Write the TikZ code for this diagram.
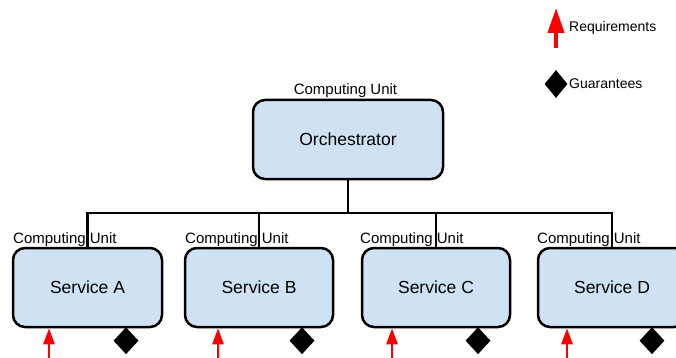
\documentclass[tikz,border=0pt]{standalone}
\usepackage{fontspec}
\setmainfont{Liberation Sans}
\usetikzlibrary{arrows.meta,shapes.geometric}
\definecolor{boxfill}{HTML}{CFE2F3}
\begin{document}
\begin{tikzpicture}[x=1pt,y=-1pt,
  unitbox/.style={draw=black, line width=2.5pt, fill=boxfill, rounded corners=12pt,
    minimum height=79pt, inner sep=0pt, font=\fontsize{17.5}{20}\selectfont},
  culabel/.style={inner sep=0pt, font=\fontsize{15}{18}\selectfont},
  link/.style={draw=black, line width=2.5pt},
  req/.style={draw=red, line width=2.5pt, -{Triangle[length=16pt,width=11pt]}},
  guar/.style={diamond, fill=black, inner sep=0pt, minimum width=25pt, minimum height=27pt},
  legtext/.style={inner sep=0pt, anchor=west, font=\fontsize{14}{16}\selectfont}]
\useasboundingbox (0,0) rectangle (676,358);
% boxes
\node[unitbox, minimum width=190pt] (orch) at (348,139.5) {Orchestrator};
\node[unitbox, minimum width=149pt] (sA) at (87.5,287.5) {Service A};
\node[unitbox, minimum width=148pt] (sB) at (259,287.5) {Service B};
\node[unitbox, minimum width=148pt] (sC) at (436,287.5) {Service C};
\node[unitbox, minimum width=148pt] (sD) at (612,287.5) {Service D};
% labels
\node[culabel, anchor=base] (lO) at (345.5,95) {Computing Unit};
\node[culabel, anchor=base west] (lA) at (13,243) {Computing Unit};
\node[culabel, anchor=base west] (lB) at (185,243) {Computing Unit};
\node[culabel, anchor=base west] (lC) at (360,243) {Computing Unit};
\node[culabel, anchor=base west] (lD) at (537,243) {Computing Unit};
% tree connectors
\coordinate (bar) at (348,213);
\draw[link] (orch.south) -- (bar);
\draw[link] (sA.north) |- (bar) -| (sD.north);
\draw[link] (sB.north) -- (sB.north |- bar);
\draw[link] (sC.north) -- (sC.north |- bar);
% requirements arrows
\coordinate (rA) at (49,360);
\coordinate (rB) at (218,360);
\coordinate (rC) at (392,360);
\coordinate (rD) at (567,360);
\draw[req] (rA) -- (rA |- sA.south);
\draw[req] (rB) -- (rB |- sB.south);
\draw[req] (rC) -- (rC |- sC.south);
\draw[req] (rD) -- (rD |- sD.south);
% guarantees
\node[guar, anchor=north] (gA) at (126,327) {};
\node[guar, anchor=north] (gB) at (302,327) {};
\node[guar, anchor=north] (gC) at (478,327) {};
\node[guar, anchor=north] (gD) at (652,327) {};
% legend
\coordinate (lgS) at (556,48);
\coordinate (lgE) at (556,8);
\draw[draw=red, line width=4pt, -{Triangle[length=25pt,width=16pt]}] (lgS) -- (lgE);
\node[legtext] (lreq) at (569,28) {Requirements};
\node[guar, minimum width=23pt, minimum height=28pt] (lgD) at (556,84) {};
\node[legtext] (lguar) at (569,84) {Guarantees};
\end{tikzpicture}
\end{document}
